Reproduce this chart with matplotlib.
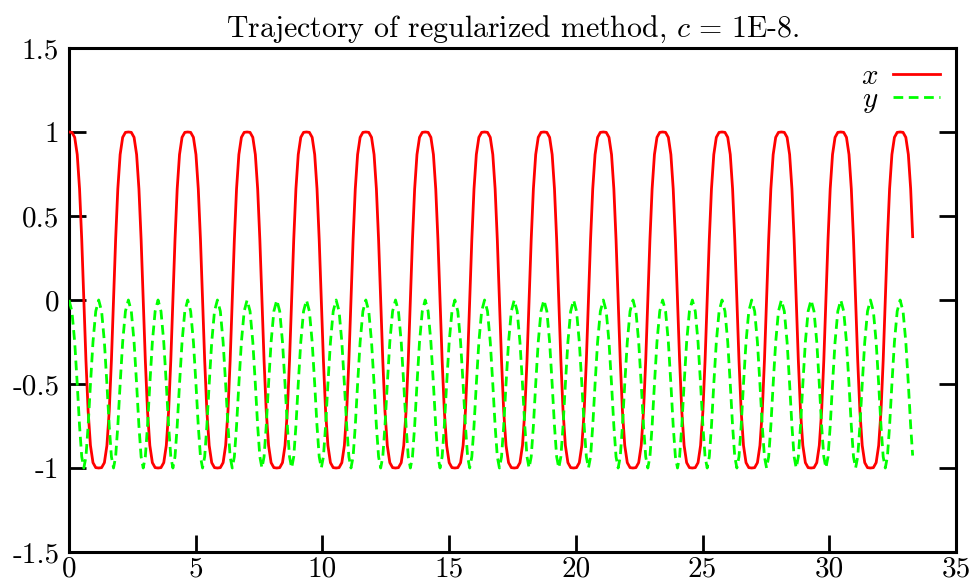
import matplotlib
matplotlib.use("Agg")
import matplotlib.pyplot as plt
from matplotlib.ticker import FixedLocator, FuncFormatter

# Times at which x reaches its maxima
peak_times = [0.000, 2.343, 4.685, 7.028, 9.370, 11.713, 14.055, 16.398,
              18.740, 21.083, 23.425, 25.768, 28.110, 30.453, 32.795]

# One swing sampled from one maximum of x up to the next one
cycle_dt = [0.0000, 0.1157, 0.2248, 0.3247, 0.4164, 0.5025, 0.5856, 0.6688,
            0.7548, 0.8465, 0.9465, 1.0556, 1.1713, 1.2869, 1.3960, 1.4960,
            1.5877, 1.6737, 1.7569, 1.8400, 1.9261, 2.0178, 2.1177, 2.2268]
cycle_x = [1.0000, 0.9978, 0.9682, 0.8660, 0.6614, 0.3598, 0.0000, -0.3598,
           -0.6614, -0.8660, -0.9682, -0.9978, -1.0000, -0.9978, -0.9682, -0.8660,
           -0.6614, -0.3598, 0.0000, 0.3598, 0.6614, 0.8660, 0.9682, 0.9978]
cycle_y = [0.0000, -0.0670, -0.2500, -0.5000, -0.7500, -0.9330, -1.0000, -0.9330,
           -0.7500, -0.5000, -0.2500, -0.0670, 0.0000, -0.0670, -0.2500, -0.5000,
           -0.7500, -0.9330, -1.0000, -0.9330, -0.7500, -0.5000, -0.2500, -0.0670]

# Final state of the run
t_end, x_end, y_end = 33.29, 0.377, -0.926

x_ticks = [0, 5, 10, 15, 20, 25, 30, 35]
y_ticks = [-1.5, -1, -0.5, 0, 0.5, 1, 1.5]

# assemble the trajectory swing by swing
t, xs, ys = [], [], []
for t0 in peak_times:
    for dt, xv, yv in zip(cycle_dt, cycle_x, cycle_y):
        if t0 + dt < t_end:
            t.append(t0 + dt)
            xs.append(xv)
            ys.append(yv)
t.append(t_end)
xs.append(x_end)
ys.append(y_end)

plt.rcParams.update({
    "font.family": "serif",
    "font.serif": ["cmr10"],
    "mathtext.fontset": "cm",
    "axes.unicode_minus": False,
    "font.size": 21,
})

W, H = 976, 581
fig = plt.figure(figsize=(W / 100, H / 100), dpi=100)
left, right, top, bottom = 69, 956, 48, 552
ax = fig.add_axes([left / W, 1 - bottom / H, (right - left) / W, (bottom - top) / H])

ax.plot(t, xs, color="#ff0000", lw=2.0, label="$x$", zorder=3)
ax.plot(t, ys, color="#00ff00", lw=2.0, dashes=(3.5, 2.0), label="$y$", zorder=4)

ax.set_xlim(0, 35)
ax.set_ylim(-1.5, 1.5)
ax.xaxis.set_major_locator(FixedLocator(x_ticks))
ax.yaxis.set_major_locator(FixedLocator(y_ticks))
fmt = FuncFormatter(lambda v, p: "%g" % v)
ax.xaxis.set_major_formatter(fmt)
ax.yaxis.set_major_formatter(fmt)
ax.tick_params(axis="both", direction="in", length=12, width=2.0, labelsize=21)
ax.tick_params(axis="y", right=True, pad=7)
ax.tick_params(axis="x", top=False, pad=3)
for s in ax.spines.values():
    s.set_linewidth(2.2)

ax.set_title(r"Trajectory of regularized method, $c\,=\,1$E-8.", fontsize=21.5, pad=8)

ax.legend(loc="upper right", frameon=False, markerfirst=False, handlelength=1.6,
          handletextpad=0.5, labelspacing=-0.12, borderpad=0.35, borderaxespad=0.2,
          fontsize=21)

fig.savefig("out.png", dpi=100)
